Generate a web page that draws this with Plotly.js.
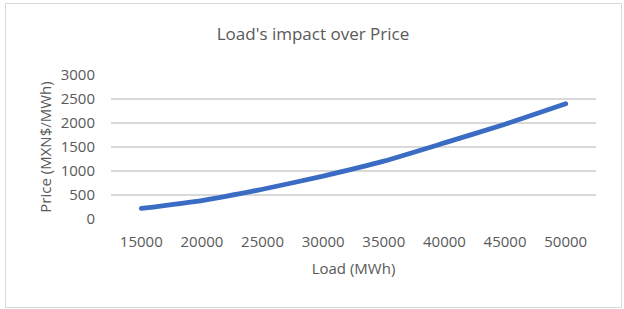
<!DOCTYPE html>
<html>
<head>
<meta charset="utf-8">
<script src="https://cdn.plot.ly/plotly-3.0.1.min.js"></script>
<style>
  html, body { margin: 0; padding: 0; background: #ffffff; }
  #chart { width: 624px; height: 309px; position: absolute; left: 0; top: 0; }
  #frame { position: absolute; left: 5px; top: 3px; width: 615px; height: 303px;
           border: 1px solid #d9d9d9; pointer-events: none; }
  #chart .scatterlayer path.js-line { stroke-linecap: round; }
</style>
</head>
<body>
<div id="chart"></div>
<div id="frame"></div>
<script>
const loadCategories = ["15000", "20000", "25000", "30000", "35000", "40000", "45000", "50000"];
const priceValues = [220, 385, 620, 895, 1205, 1585, 1975, 2400];
const yTickValues = [0, 500, 1000, 1500, 2000, 2500, 3000];

const textColor = "#595959";
const fontFamily = "'Open Sans', 'Noto Sans', sans-serif";

const trace = {
  x: loadCategories,
  y: priceValues,
  type: "scatter",
  mode: "lines",
  line: { color: "#3b6cc4", width: 4.8, shape: "spline", smoothing: 0.5 },
  hoverinfo: "skip"
};

const layout = {
  width: 624,
  height: 309,
  margin: { l: 111, r: 28, t: 75, b: 90 },
  paper_bgcolor: "#ffffff",
  plot_bgcolor: "#ffffff",
  showlegend: false,
  font: { family: fontFamily, color: textColor, size: 15 },
  title: {
    text: "Load's impact over Price",
    font: { family: fontFamily, size: 17, color: textColor },
    x: 313 / 624, xref: "container", xanchor: "center",
    y: 1 - 34 / 309, yref: "container", yanchor: "middle"
  },
  xaxis: {
    type: "category",
    range: [-0.5, loadCategories.length - 0.5],
    showgrid: false,
    zeroline: false,
    showline: false,
    ticks: "outside",
    ticklen: 9,
    tickcolor: "rgba(0,0,0,0)",
    tickfont: { family: fontFamily, size: 15, color: textColor },
    title: { text: "Load (MWh)", font: { family: fontFamily, size: 15, color: textColor }, standoff: 13 },
    fixedrange: true
  },
  yaxis: {
    range: [0, 3000],
    tickvals: yTickValues,
    ticktext: yTickValues.map(String),
    showgrid: true,
    gridcolor: "#d9d9d9",
    gridwidth: 1.3,
    zeroline: false,
    showline: false,
    ticks: "outside",
    ticklen: 12,
    tickcolor: "rgba(0,0,0,0)",
    tickfont: { family: fontFamily, size: 15, color: textColor },
    title: { text: "Price (MXN$/MWh)", font: { family: fontFamily, size: 15, color: textColor }, standoff: 5 },
    fixedrange: true
  }
};

Plotly.newPlot("chart", [trace], layout, { staticPlot: true, displayModeBar: false });
</script>
</body>
</html>
